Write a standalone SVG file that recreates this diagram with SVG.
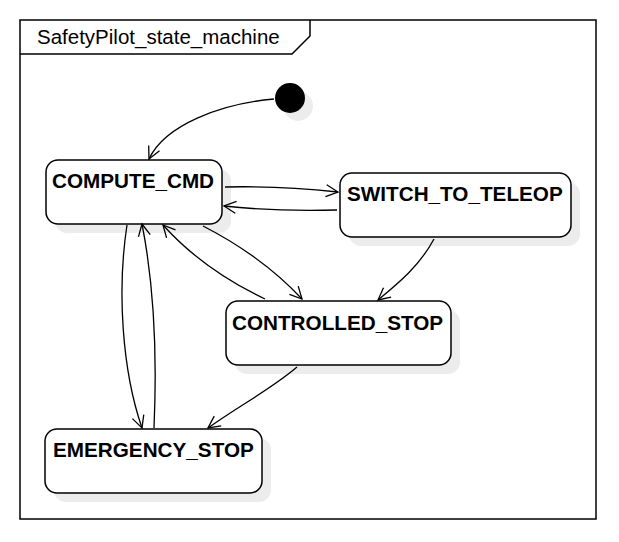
<svg xmlns="http://www.w3.org/2000/svg" width="619" height="542" viewBox="0 0 619 542">
<style>
.st{fill:#fff;stroke:#000;stroke-width:1.5}
.sh{fill:#ececec}
.lbl{font-family:"Liberation Sans",Arial,sans-serif;font-weight:bold;font-size:20.7px;fill:#000}
.e{fill:none;stroke:#000;stroke-width:1.3;marker-end:url(#ah)}
</style>
<defs>
<marker id="ah" markerUnits="userSpaceOnUse" markerWidth="16" markerHeight="16" refX="13" refY="7" orient="auto">
<path d="M1,1 L13,7 L1,13" fill="none" stroke="#000" stroke-width="1.3"/>
</marker>
</defs>
<rect width="619" height="542" fill="#fff"/>
<g id="frame">
<rect x="20" y="20" width="576" height="499" fill="none" stroke="#000" stroke-width="1.5"/>
<path d="M20,54 L292,54 L310,36 L310,20" fill="none" stroke="#000" stroke-width="1.5"/>
<text x="37" y="44" font-family="'Liberation Sans',Arial,sans-serif" font-size="20.5">SafetyPilot_state_machine</text>
</g>
<g id="initial">
<circle cx="298" cy="106" r="15" class="sh"/>
<circle cx="290" cy="98" r="15" fill="#000"/>
</g>
<g id="COMPUTE_CMD">
<rect x="55" y="169" width="176" height="64" rx="12" class="sh"/>
<rect x="46" y="160" width="176" height="64" rx="12" class="st"/>
<text x="52" y="188" class="lbl">COMPUTE_CMD</text>
</g>
<g id="SWITCH_TO_TELEOP">
<rect x="349" y="182" width="231" height="64" rx="12" class="sh"/>
<rect x="340" y="173" width="231" height="64" rx="12" class="st"/>
<text x="347" y="201" class="lbl">SWITCH_TO_TELEOP</text>
</g>
<g id="CONTROLLED_STOP">
<rect x="235" y="310" width="225" height="64" rx="12" class="sh"/>
<rect x="226" y="301" width="225" height="64" rx="12" class="st"/>
<text x="232" y="330" class="lbl">CONTROLLED_STOP</text>
</g>
<g id="EMERGENCY_STOP">
<rect x="54" y="438" width="217" height="64" rx="12" class="sh"/>
<rect x="45" y="429" width="217" height="64" rx="12" class="st"/>
<text x="53" y="457" class="lbl">EMERGENCY_STOP</text>
</g>
<g id="connectors">
<path class="e" d="M274,99 C220,104 165,125 149,159"/>
<path class="e" d="M225,187 C265,186 300,188 338,192"/>
<path class="e" d="M337,210 C300,211 260,210 224,206"/>
<path class="e" d="M203,226 C240,245 275,270 302,299"/>
<path class="e" d="M265,299 C225,280 190,255 163,225"/>
<path class="e" d="M434,239 C420,265 400,282 378,300"/>
<path class="e" d="M127,225 C117,290 122,370 142,428"/>
<path class="e" d="M154,428 C157,360 155,290 142,224"/>
<path class="e" d="M297,367 C270,390 240,405 208,428"/>
</g>
</svg>
